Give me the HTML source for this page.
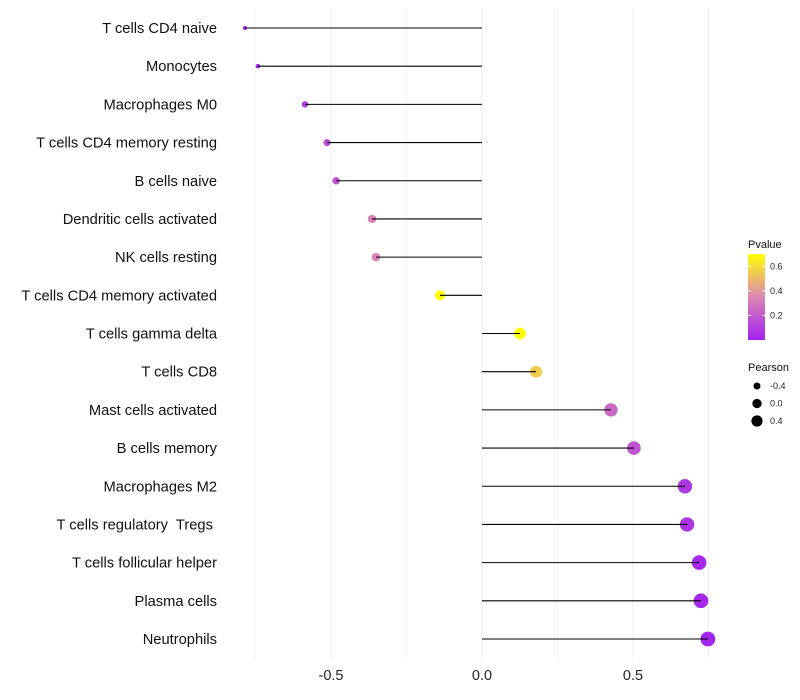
<!DOCTYPE html>
<html><head><meta charset="utf-8"><style>
body{margin:0;background:#fff;font-family:"Liberation Sans",sans-serif}
svg{display:block}
text{white-space:pre}
</style></head><body>
<svg id="chart" width="800" height="700"></svg>
<script>
const categories=["T cells CD4 naive","Monocytes","Macrophages M0","T cells CD4 memory resting","B cells naive","Dendritic cells activated","NK cells resting","T cells CD4 memory activated","T cells gamma delta","T cells CD8","Mast cells activated","B cells memory","Macrophages M2","T cells regulatory  Tregs ","T cells follicular helper","Plasma cells","Neutrophils"];
const pearson=[-0.785,-0.742,-0.586,-0.513,-0.483,-0.364,-0.351,-0.139,0.126,0.179,0.427,0.503,0.672,0.679,0.719,0.725,0.748];
const pvalue=[0.02,0.03,0.1,0.16,0.18,0.33,0.34,0.7,0.69,0.55,0.25,0.18,0.08,0.07,0.03,0.03,0.02];
const xTicks=[-0.5,0,0.5];
const xMinor=[-0.75,-0.25,0.25,0.75];
const pTicks=[0.2,0.4,0.6];
const sizeTicks=[-0.4,0,0.4];

const NS="http://www.w3.org/2000/svg";
const svg=document.getElementById('chart');
function mk(t,a,p){const e=document.createElementNS(NS,t);for(const k in a)e.setAttribute(k,a[k]);(p||svg).appendChild(e);return e;}
const x=v=>482+v*302;
const y=i=>28+i*(611/16);
const r=v=>Math.sqrt(Math.max(0.5,30+33*v));
function col(p){
  const stops=[[0,[160,32,240]],[0.35,[220,135,180]],[0.7,[255,255,0]]];
  p=Math.max(0,Math.min(0.7,p));
  for(let i=0;i<stops.length-1;i++){const[a,ca]=stops[i],[b,cb]=stops[i+1];
    if(p<=b){const t=(p-a)/(b-a);return 'rgb('+ca.map((c,j)=>Math.round(c+(cb[j]-c)*t)).join(',')+')';}}
}
xMinor.forEach(v=>{const l=mk('line',{x1:x(v),x2:x(v),y1:8,y2:660,stroke:'#f4f4f4','stroke-width':1});

});
xTicks.forEach(v=>{const l=mk('line',{x1:x(v),x2:x(v),y1:8,y2:660,stroke:'#ededed','stroke-width':1});


const t=mk('text',{x:x(v),y:680,'text-anchor':'middle','font-size':14.5,fill:'#222'});t.textContent=v===0?'0.0':String(v);

});
categories.forEach((c,i)=>{
  const t=mk('text',{x:217,y:y(i)+5,'text-anchor':'end','font-size':14.7,fill:'#111'});t.textContent=c;
  
  
  const pt=mk('circle',{cx:x(pearson[i]),cy:y(i),r:r(pearson[i]),fill:col(pvalue[i])});
  
  
  const l=mk('line',{x1:x(0),x2:x(pearson[i]),y1:y(i),y2:y(i),stroke:'#000','stroke-width':1.1});
  
  
});
let t=mk('text',{x:748,y:248,'font-size':11,fill:'#111'});t.textContent='Pvalue';


const defs=mk('defs',{});const g=mk('linearGradient',{id:'pg',x1:0,y1:1,x2:0,y2:0},defs);
[0,0.175,0.35,0.525,0.7].forEach(p=>mk('stop',{offset:p/0.7,'stop-color':col(p)},g));
const bar=mk('rect',{x:748,y:254,width:17,height:86,fill:'url(#pg)'});


const py=p=>340-p/0.7*86;
pTicks.forEach(p=>{mk('line',{x1:748,x2:751,y1:py(p),y2:py(p),stroke:'#fff'});mk('line',{x1:762,x2:765,y1:py(p),y2:py(p),stroke:'#fff'});
const tt=mk('text',{x:770,y:py(p)+3,'font-size':9,fill:'#222'});tt.textContent=String(p);

});
t=mk('text',{x:748,y:371,'font-size':11,fill:'#111'});t.textContent='Pearson';


sizeTicks.forEach((v,i)=>{const c=mk('circle',{cx:757,cy:386+i*17.5,r:r(v)*0.85,fill:'#000'});


const tt=mk('text',{x:770,y:389+i*17.5,'font-size':9,fill:'#222'});tt.textContent=v===0?'0.0':String(v);

});
</script>
</body></html>
